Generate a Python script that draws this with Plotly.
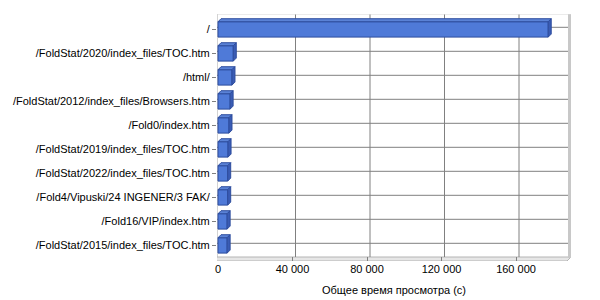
import plotly.graph_objects as go

categories = ["/", "/FoldStat/2020/index_files/TOC.htm", "/html/",
              "/FoldStat/2012/index_files/Browsers.htm", "/Fold0/index.htm",
              "/FoldStat/2019/index_files/TOC.htm", "/FoldStat/2022/index_files/TOC.htm",
              "/Fold4/Vipuski/24 INGENER/3 FAK/", "/Fold16/VIP/index.htm",
              "/FoldStat/2015/index_files/TOC.htm"]
values = [177300, 8200, 7500, 6500, 5900, 5400, 5200, 5200, 4900, 4900]
x_tickvals = [0, 40000, 80000, 120000, 160000]
x_ticktext = ["0", "40 000", "80 000", "120 000", "160 000"]
x_title = "Общее время просмотра (с)"

# pixel geometry
L, RP, T, B = 217, 571, 14, 261
X0PX = 218.0
K = 40000 / 74.5           # data units per px (x)
C0 = 29.4                   # first category centre px
ROW = 24.0                  # px per category
DPX = 3.0                   # 3-D depth px

def xd(px):
    return (px - X0PX) * K

def yd(py):
    return (py - C0) / ROW

dxv = DPX * K
dyv = DPX / ROW
h = 0.32

fig = go.Figure()

shapes = []
# left wall
shapes.append(dict(type="path", xref="x", yref="y", layer="below",
                   path=f"M {xd(214)},{yd(18)} L {xd(217)},{yd(14)} L {xd(217)},{yd(257)} L {xd(214)},{yd(261)} Z",
                   fillcolor="#E4E4E4", line=dict(color="#A8A8A8", width=1)))
# floor
shapes.append(dict(type="path", xref="x", yref="y", layer="below",
                   path=f"M {xd(214)},{yd(261)} L {xd(567)},{yd(261)} L {xd(571)},{yd(257)} L {xd(217)},{yd(257)} Z",
                   fillcolor="#E6E6E6", line=dict(color="#B4B4B4", width=1)))
# right wall
shapes.append(dict(type="rect", xref="x", yref="y", layer="below",
                   x0=xd(568), x1=xd(571), y0=yd(12), y1=yd(258),
                   fillcolor="#C8C8C8", line=dict(width=0)))
# top edge
shapes.append(dict(type="rect", xref="x", yref="y", layer="below",
                   x0=xd(217), x1=xd(571), y0=yd(12), y1=yd(14.5),
                   fillcolor="#D8D8D8", line=dict(width=0)))
# back gridlines (vertical)
for v in x_tickvals[1:]:
    shapes.append(dict(type="line", xref="x", yref="y", layer="below",
                       x0=v + dxv, x1=v + dxv, y0=yd(14.5), y1=yd(257),
                       line=dict(color="#808080", width=1)))
# back gridlines (horizontal)
for i in range(len(categories)):
    shapes.append(dict(type="line", xref="x", yref="y", layer="below",
                       x0=xd(217), x1=xd(568), y0=i - dyv * 0.7, y1=i - dyv * 0.7,
                       line=dict(color="#808080", width=1)))

fig.add_trace(go.Bar(
    x=values, y=list(range(len(categories))), orientation="h", width=2 * h,
    marker=dict(color="#4F7AD8", line=dict(color="#2E4D9E", width=1)),
    hoverinfo="skip"))

tx, ty, sx, sy = [], [], [], []
for i, v in enumerate(values):
    tx += [0, v, v + dxv, dxv, 0, None]
    ty += [i - h, i - h, i - h - dyv, i - h - dyv, i - h, None]
    sx += [v, v + dxv, v + dxv, v, v, None]
    sy += [i - h, i - h - dyv, i + h - dyv, i + h, i - h, None]
fig.add_trace(go.Scatter(x=tx, y=ty, mode="lines", fill="toself",
                         fillcolor="#5A82D6", line=dict(color="#2E4D9E", width=1),
                         hoverinfo="skip"))
fig.add_trace(go.Scatter(x=sx, y=sy, mode="lines", fill="toself",
                         fillcolor="#3A5CB4", line=dict(color="#2E4D9E", width=1),
                         hoverinfo="skip"))

font = dict(family="Liberation Sans", size=11, color="#000000")
fig.update_layout(
    width=600, height=300, showlegend=False,
    margin=dict(l=L, r=600 - RP, t=T, b=300 - B, autoexpand=False),
    paper_bgcolor="white", plot_bgcolor="white",
    font=font, shapes=shapes,
    xaxis=dict(range=[xd(L), xd(RP)], showgrid=False, zeroline=False,
               tickvals=x_tickvals, ticktext=x_ticktext, ticks="inside",
               ticklen=4, tickcolor="#808080", showline=False,
               title=dict(text=x_title, standoff=12, font=font), tickfont=font),
    yaxis=dict(range=[yd(B), yd(T)], showgrid=False, zeroline=False,
               tickvals=list(range(len(categories))), ticktext=categories,
               ticks="outside", ticklen=4, tickcolor="#808080", showline=False,
               tickfont=font),
)
fig.write_html("out.html")
